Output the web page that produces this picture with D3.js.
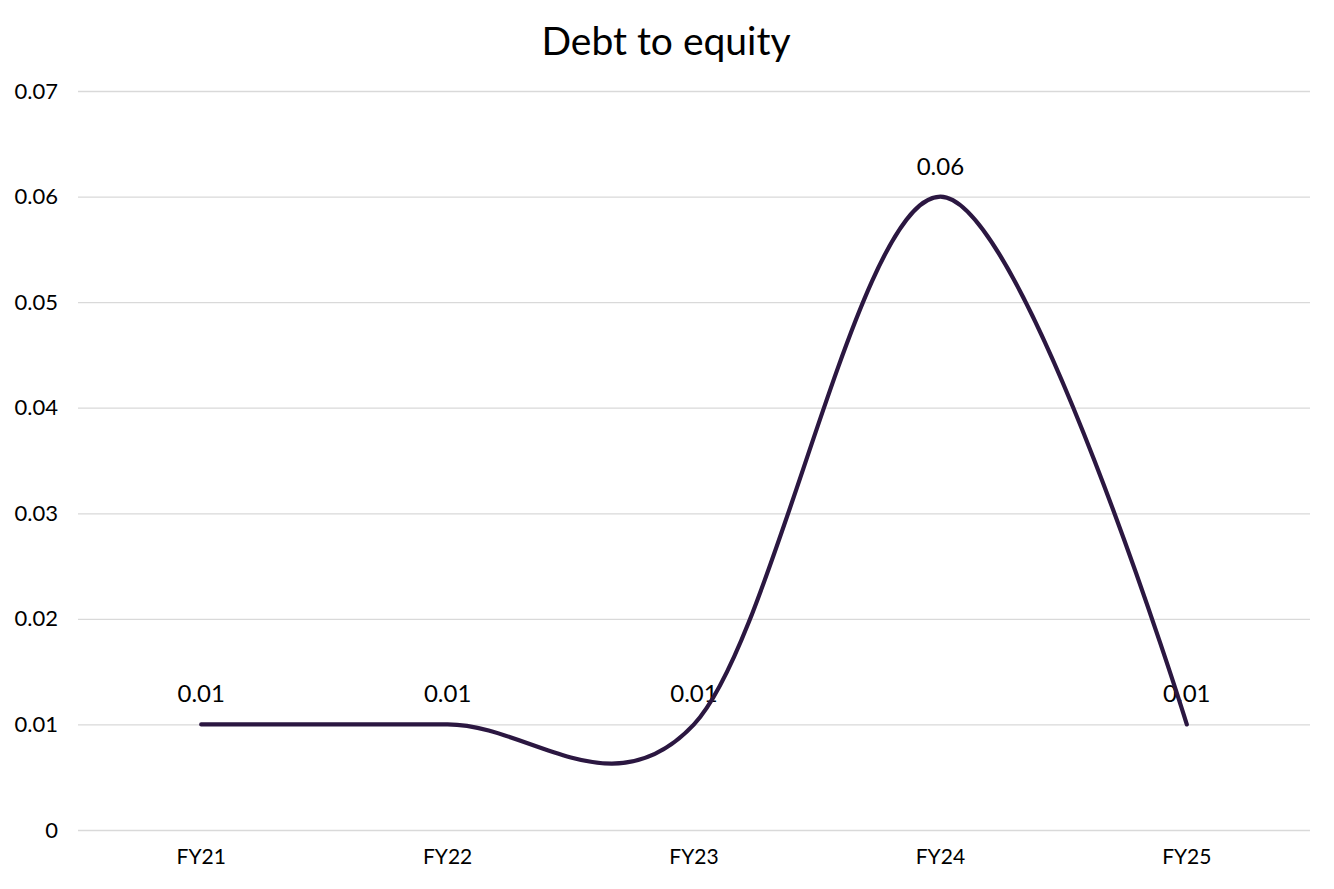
<!DOCTYPE html>
<html>
<head>
<meta charset="utf-8">
<script src="https://cdn.jsdelivr.net/npm/d3@7"></script>
<style>
  html, body { margin: 0; padding: 0; background: #fff; }
  svg { display: block; font-family: "Lato", "Open Sans", sans-serif; }
</style>
</head>
<body>
<svg id="chart" width="1334" height="889"></svg>
<script>
const title = "Debt to equity";
const categories = ["FY21", "FY22", "FY23", "FY24", "FY25"];
const values = [0.01, 0.01, 0.01, 0.06, 0.01];
const dataLabels = ["0.01", "0.01", "0.01", "0.06", "0.01"];
const yTicks = [0, 0.01, 0.02, 0.03, 0.04, 0.05, 0.06, 0.07];
const yTickLabels = ["0", "0.01", "0.02", "0.03", "0.04", "0.05", "0.06", "0.07"];

const svg = d3.select("#chart");
const margin = { left: 78, right: 24, top: 91, bottom: 59 };
const W = 1334, H = 889;

const x = d3.scaleBand().domain(categories).range([margin.left, W - margin.right]);
const y = d3.scaleLinear().domain([0, 0.07]).range([H - margin.bottom, margin.top]);

// title
svg.append("text")
  .attr("x", 666).attr("y", 55)
  .attr("text-anchor", "middle")
  .attr("font-size", 39)
  .attr("fill", "#000")
  .text(title);

// gridlines
const yAxis = d3.axisLeft(y).tickValues(yTicks).tickSize(-(W - margin.left - margin.right))
  .tickPadding(20).tickFormat((d, i) => yTickLabels[i]);
const gy = svg.append("g").attr("transform", `translate(${margin.left},0)`).call(yAxis);
gy.select(".domain").remove();
gy.selectAll(".tick line").attr("stroke", "#d9d9d9").attr("stroke-width", 1.3);
gy.selectAll(".tick text").attr("font-size", 22).attr("fill", "#000")
  .attr("font-family", "Lato, 'Open Sans', sans-serif");

// x axis labels
const xAxis = d3.axisBottom(x).tickSize(0).tickPadding(19);
const gx = svg.append("g").attr("transform", `translate(0,${H - margin.bottom})`).call(xAxis);
gx.select(".domain").remove();
gx.selectAll(".tick text").attr("font-size", 21).attr("fill", "#000")
  .attr("font-family", "Lato, 'Open Sans', sans-serif");

const cx = d => x(d) + x.bandwidth() / 2;

// data labels (under the line)
svg.append("g").selectAll("text").data(categories).join("text")
  .attr("x", d => cx(d))
  .attr("y", (d, i) => y(values[i]) - 22)
  .attr("text-anchor", "middle")
  .attr("font-size", 24)
  .attr("fill", "#000")
  .text((d, i) => dataLabels[i]);

// line
const line = d3.line()
  .x((d, i) => cx(categories[i]))
  .y(d => y(d))
  .curve(d3.curveCatmullRom.alpha(0));
svg.append("path")
  .datum(values)
  .attr("d", line)
  .attr("fill", "none")
  .attr("stroke", "#2b1741")
  .attr("stroke-width", 4.2)
  .attr("stroke-linecap", "round");
</script>
</body>
</html>
